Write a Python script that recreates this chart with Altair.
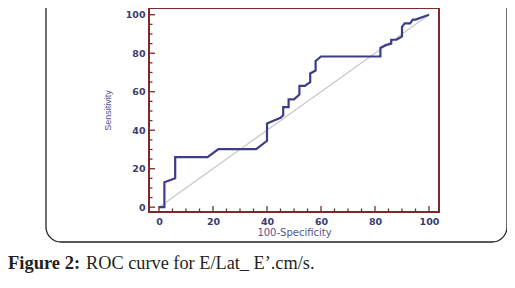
import altair as alt
import pandas as pd

# ROC curve points (100-Specificity, Sensitivity)
fpr = [0, 2, 2, 6, 6, 18, 22, 36, 40, 40, 45, 46, 46, 48, 48, 50, 52, 52, 54, 56, 56, 58, 58, 60,
       82, 82, 84, 86, 86, 88, 90, 90, 91, 93, 94, 95, 100]
tpr = [0, 0, 13, 15, 26, 26, 30.2, 30.2, 34.5, 43.5, 46.5, 47.8, 52, 52, 56, 56, 58.5, 63, 63, 65, 69.5,
       71, 76, 78.3, 78.3, 82.8, 84.2, 85, 87, 87, 88.7, 93.7, 95.5, 95.5, 97.5, 97.5, 100]
diag_x = [0, 100]
diag_y = [0, 100]
x_major = [0, 20, 40, 60, 80, 100]
x_minor = [5, 10, 15, 25, 30, 35, 45, 50, 55, 65, 70, 75, 85, 90, 95]
y_major = [0, 20, 40, 60, 80, 100]
y_minor = [5, 10, 15, 25, 30, 35, 45, 50, 55, 65, 70, 75, 85, 90, 95]
x_title = "100-Specificity"
y_title = "Sensitivity"
caption_bold = "Figure 2:"
caption_rest = "ROC curve for E/Lat_ E\u2019.cm/s."

W, H = 290, 204
MAROON = "#7b2b2b"
NAVY = "#3e3e86"

xs = alt.Scale(domain=[-3.7, 103.7], nice=False, zero=False)
ys = alt.Scale(domain=[-2.5, 103.5], nice=False, zero=False)

x_axis = alt.Axis(
    values=x_major, title=x_title, ticks=False, domain=False, grid=False,
    labelFont="DejaVu Sans", labelFontSize=9.5, labelFontWeight="bold", labelColor="#3a3a72",
    labelPadding=4, labelFlush=False,
    titleFont="DejaVu Sans", titleFontSize=10, titleFontWeight="normal",
    titleColor="#56568c", titlePadding=1.5)
y_axis = alt.Axis(
    values=y_major, title=y_title, ticks=False, domain=False, grid=False,
    labelFont="DejaVu Sans", labelFontSize=9.5, labelFontWeight="bold", labelColor="#3a3a72",
    labelPadding=4, labelFlush=False,
    titleFont="Liberation Sans", titleFontSize=9, titleFontWeight="normal",
    titleColor="#56568c", titlePadding=12.5)

roc_df = pd.DataFrame({"fpr": fpr, "tpr": tpr, "i": list(range(len(fpr)))})
roc = alt.Chart(roc_df).mark_line(color=NAVY, strokeWidth=2.2).encode(
    x=alt.X("fpr:Q", scale=xs, axis=x_axis, title=x_title),
    y=alt.Y("tpr:Q", scale=ys, axis=y_axis, title=y_title),
    order="i:Q",
)

diag = alt.Chart(pd.DataFrame({"fpr": diag_x, "tpr": diag_y})).mark_line(
    color="#c6c6c6", strokeWidth=1.1).encode(
    x=alt.X("fpr:Q", scale=xs, axis=x_axis, title=x_title),
    y=alt.Y("tpr:Q", scale=ys, axis=y_axis, title=y_title),
)

def ytick(vals, length):
    return alt.Chart(pd.DataFrame({"tpr": vals})).mark_rule(color=MAROON, strokeWidth=1.3).encode(
        y=alt.Y("tpr:Q", scale=ys, axis=y_axis, title=y_title), x=alt.value(0), x2=alt.value(length))

def xtick(vals, length):
    return alt.Chart(pd.DataFrame({"fpr": vals})).mark_rule(color=MAROON, strokeWidth=1.3).encode(
        x=alt.X("fpr:Q", scale=xs, axis=x_axis, title=x_title), y=alt.value(H), y2=alt.value(H - length))

one = pd.DataFrame({"k": [0]})
box = alt.Chart(one).mark_rect(fill="white", fillOpacity=0, stroke="#222222",
                               strokeWidth=1.3, cornerRadius=15).encode(
    x=alt.value(-103), x2=alt.value(358), y=alt.value(-30), y2=alt.value(234))

cap1 = alt.Chart(one).mark_text(align="left", baseline="alphabetic", font="Liberation Serif",
                                fontSize=18.5, fontWeight="bold", color="#231f20").encode(
    x=alt.value(-141), y=alt.value(261), text=alt.value(caption_bold))
cap2 = alt.Chart(one).mark_text(align="left", baseline="alphabetic", font="Liberation Serif",
                                fontSize=18.3, color="#231f20").encode(
    x=alt.value(-63), y=alt.value(261), text=alt.value(caption_rest))

chart = alt.layer(
    box, diag, roc,
    ytick(y_major, 6), ytick(y_minor, 3.5), xtick(x_major, 6), xtick(x_minor, 3.5),
    cap1, cap2,
).properties(
    width=W, height=H,
    autosize=alt.AutoSizeParams(type="none"),
    padding={"left": 141, "top": 0, "right": 68, "bottom": 64},
).configure_view(stroke=MAROON, strokeWidth=2)

chart.save("out.html", embed_options={"renderer": "svg", "actions": False})
